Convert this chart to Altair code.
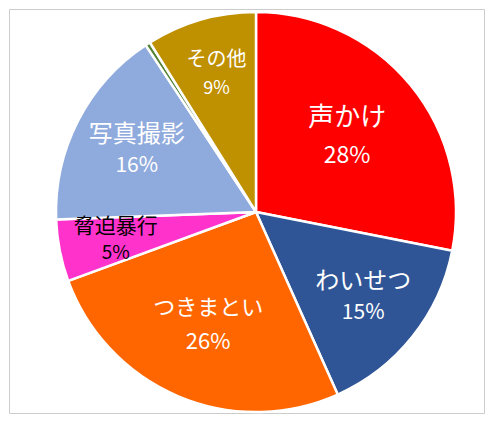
import altair as alt
import pandas as pd

categories = ["声かけ", "わいせつ", "つきまとい", "脅迫暴行", "写真撮影", "不明", "その他"]
values = [28.1, 15.2, 26.1, 5.0, 16.3, 0.4, 8.9]
pct_labels = ["28%", "15%", "26%", "5%", "16%", "", "9%"]
colors = ["#FF0000", "#2F5597", "#FF6600", "#FF33CC", "#8FAADC", "#548235", "#BF9000"]

df = pd.DataFrame({"cat": categories, "value": values, "pct": pct_labels,
                   "idx": list(range(len(categories)))})
total = float(sum(values))

FONT = "Noto Sans CJK JP"
CX, CY = 247, 203
theta_scale = alt.Scale(domain=[0, total], range=[0, 6.283185307179586])

arcs = alt.Chart(df).mark_arc(outerRadius=200, stroke="white", strokeWidth=2.5).encode(
    x=alt.value(CX), y=alt.value(CY),
    theta=alt.Theta("value:Q", stack=True, scale=theta_scale),
    color=alt.Color("cat:N", scale=alt.Scale(domain=categories, range=colors), legend=None),
    order=alt.Order("idx:Q"),
)

base = alt.Chart(df).transform_window(
    cum="sum(value)", sort=[alt.SortField("idx")], frame=[None, 0]
).transform_calculate(mid="datum.cum - datum.value / 2")


def label(cat, r, sep, name_size, pct_size, color):
    b = base.transform_filter(alt.datum.cat == cat)
    enc = dict(x=alt.value(CX), y=alt.value(CY),
               theta=alt.Theta("mid:Q", stack=False, scale=theta_scale))
    name = b.mark_text(radius=r, dy=-sep / 2, fontSize=name_size, color=color,
                       font=FONT, baseline="middle", align="center").encode(text="cat:N", **enc)
    pct = b.mark_text(radius=r, dy=sep / 2, fontSize=pct_size, color=color,
                      font=FONT, baseline="middle", align="center").encode(text="pct:N", **enc)
    return [name, pct]


layers = [arcs]
layers += label("声かけ", 118, 38, 26, 23, "white")
layers += label("わいせつ", 137, 31, 24, 21, "white")
layers += label("つきまとい", 123, 34, 22, 22, "white")
layers += label("脅迫暴行", 143, 26, 21, 19, "black")
layers += label("写真撮影", 134, 31, 24, 21, "white")
layers += label("その他", 143, 29, 20, 18, "white")

chart = alt.layer(*layers).properties(
    width=475, height=404, autosize=alt.AutoSizeParams(type="none"),
    padding={"left": 1, "top": 1, "right": 1, "bottom": 1},
    background="white"
).configure_view(stroke="#cccccc", strokeWidth=1)

chart.save("out.html", embed_options={"renderer": "svg", "actions": False})
